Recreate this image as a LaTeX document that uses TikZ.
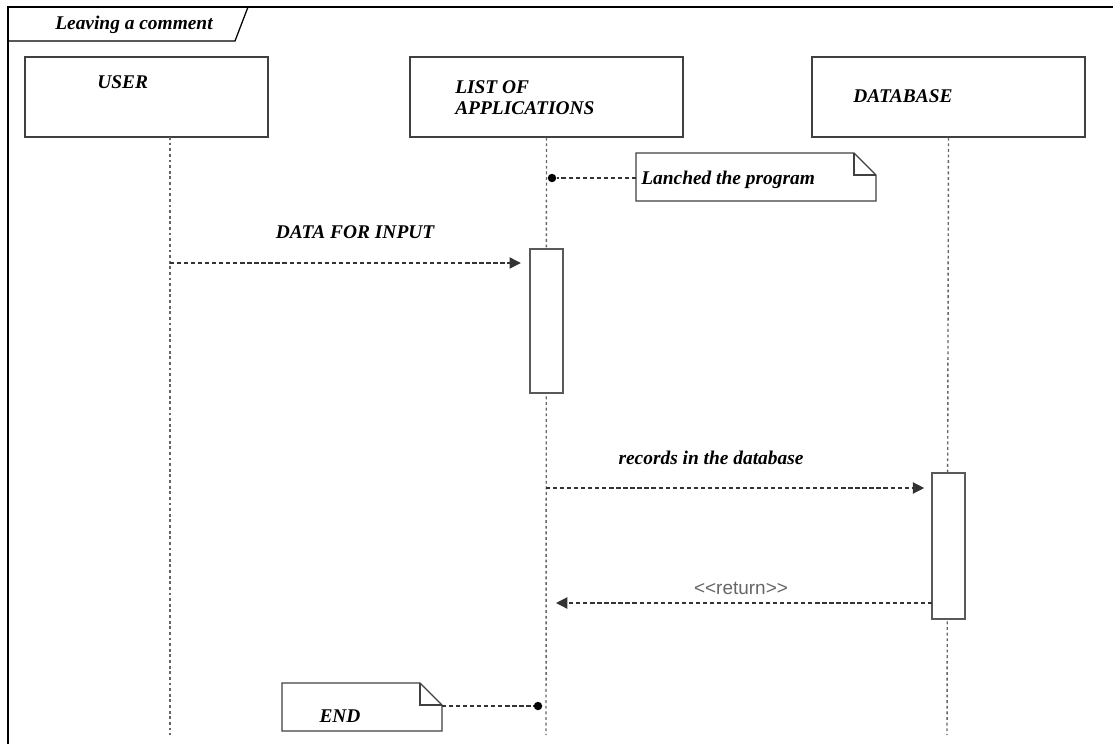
\documentclass[tikz,border=0pt]{standalone}
\usepackage{fontspec}
\setmainfont{Liberation Serif}
\newfontfamily\retfont{Liberation Sans}
\usetikzlibrary{arrows.meta}
\tikzset{
  objbox/.style={draw=black!75,line width=1pt,minimum width=6.825cm,minimum height=2cm,inner sep=0pt},
  actbox/.style={draw=black!65,line width=1.1pt,fill=white,minimum width=0.825cm,inner sep=0pt},
  lifeline/.style={draw=black!60,line width=1pt,dash pattern=on 2pt off 2pt},
  msg/.style={draw=black!80,line width=0.9pt,dash pattern=on 3pt off 2pt,-{Triangle[length=8pt,width=8pt]}},
  notelink/.style={draw=black!80,line width=0.8pt,dash pattern=on 3pt off 2pt},
  lbl/.style={font=\bfseries\itshape\fontsize{13.8}{15}\selectfont,inner sep=0pt},
  dot/.style={circle,fill=black,minimum size=6pt,inner sep=0pt},
}
\begin{document}
\begin{tikzpicture}[x=0.025cm,y=-0.025cm]
\useasboundingbox(0,0)rectangle(1113,744);
% frame and title tab
\draw[line width=1.8pt](1113,7)--(8,7)--(8,744);
\draw[line width=0.9pt](8,41)--(235,41)--(248,7);
\node[lbl,anchor=west](title)at(55,25){Leaving a comment};
%
\node[objbox,minimum width=6.075cm](user)at(146.5,97){};
\node[objbox](list)at(546.5,97){};
\node[objbox](db)at(948.5,97){};
\node[lbl,anchor=west](userlbl)at(97,82){USER};
\node[lbl,anchor=west,align=left](listlbl)at(455,98){LIST OF\\APPLICATIONS};
\node[lbl,anchor=west](dblbl)at(853,96){DATABASE};
% lifelines
\coordinate(usertop)at(170,137);
\coordinate(userend)at(170,735);
\coordinate(listend)at(546,735);
\coordinate(dbend)at(947,735);
\draw[lifeline](usertop)--(userend);
\draw[lifeline](list.south)--(listend);
\draw[lifeline](db.south)--(dbend);
% activations
\node[actbox,minimum height=3.6cm](actlist)at(546.5,321){};
\node[actbox,minimum height=3.65cm](actdb)at(948.5,546){};
% note: launched
\draw[line width=1pt,draw=black!75,fill=white](636,153)--(854,153)--(876,175)--(876,201)--(636,201)--cycle;
\draw[line width=1pt,draw=black!75](854,153)--(854,175)--(876,175);
\node[lbl,anchor=west](lanched)at(641,180){Lanched the program};
\node[dot](dotA)at(552,178){};
\coordinate(noteA)at(636,178);
\draw[notelink](noteA)--(dotA);
% messages
\coordinate(m1)at(170,263);
\draw[msg,shorten >=6pt](m1)--(actlist.west|-m1);
\node[lbl](m1lbl)at(355,232){DATA FOR INPUT};
\coordinate(m2)at(546,488);
\draw[msg,shorten >=5pt](m2)--(actdb.west|-m2);
\node[lbl](m2lbl)at(711,458){records in the database};
\coordinate(m3)at(932,603);
\coordinate(m3end)at(556,603);
\draw[msg](m3)--(m3end);
\node[inner sep=0pt,text=black!60,font=\retfont\fontsize{13.5}{15}\selectfont](m3lbl)at(741,588){<{}<return>{}>};
% note: end
\draw[line width=1pt,draw=black!75,fill=white](282,683)--(420,683)--(442,705)--(442,731)--(282,731)--cycle;
\draw[line width=1pt,draw=black!75](420,683)--(420,705)--(442,705);
\node[lbl](endlbl)at(340,716){END};
\node[dot](dotB)at(538,706){};
\coordinate(noteB)at(442,706);
\draw[notelink](noteB)--(dotB);
\end{tikzpicture}
\end{document}
